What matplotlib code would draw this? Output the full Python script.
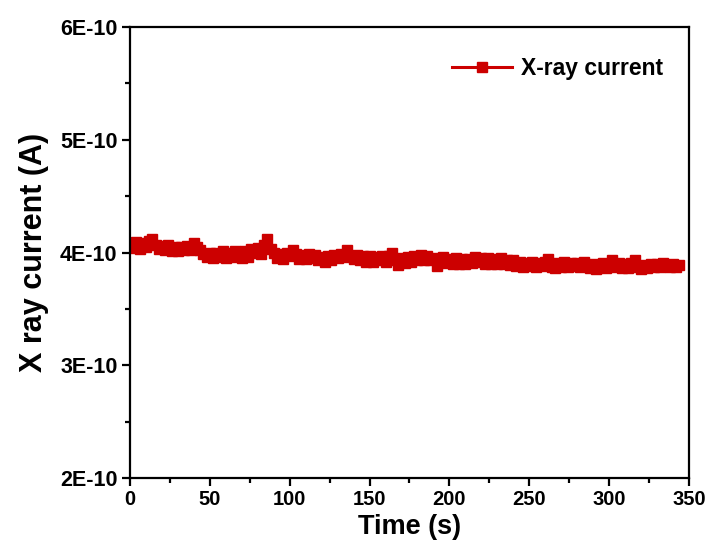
import matplotlib
matplotlib.use("Agg")
import matplotlib.pyplot as plt
import numpy as np
from matplotlib.ticker import FixedLocator, FixedFormatter, MultipleLocator

plt.rcParams['font.family'] = ['Liberation Sans', 'DejaVu Sans']
plt.rcParams['font.weight'] = 'bold'

# sampled every 2 s, current in units of 1e-10 A
dt = 2.0
current = [
    4.08, 4.04, 4.09, 4.03, 4.08, 4.05,
    4.10, 4.12, 4.07, 4.03,
    4.06, 4.02, 4.07, 4.01, 4.05,
    4.01, 4.05, 4.02, 4.06, 4.02,
    4.08, 4.05, 4.02, 3.99,
    3.96, 4.00, 3.95, 4.00, 3.96, 4.01,
    3.95, 4.00, 3.96, 4.01, 3.97,
    3.95, 4.01, 3.96, 4.03, 4.00,
    4.04, 3.99, 4.07, 4.12, 4.03,
    4.00, 3.95, 3.99, 3.94, 4.00,
    3.97, 4.02, 3.99, 3.94, 3.98,
    3.94, 3.99, 3.95, 3.98, 3.93,
    3.96, 3.92, 3.97, 3.93, 3.98,
    3.95, 3.99, 3.96, 4.02, 3.97,
    3.94, 3.98, 3.93, 3.97, 3.92,
    3.97, 3.92, 3.96, 3.93, 3.97,
    3.92, 3.97, 4.00, 3.93, 3.89,
    3.95, 3.91, 3.96, 3.92, 3.97,
    3.93, 3.98, 3.93, 3.97, 3.93,
    3.95, 3.88, 3.93, 3.96, 3.91,
    3.94, 3.90, 3.95, 3.90, 3.94,
    3.90, 3.94, 3.91, 3.96, 3.92,
    3.95, 3.90, 3.95, 3.90, 3.94,
    3.90, 3.95, 3.90, 3.93, 3.89,
    3.93, 3.88, 3.92, 3.87, 3.91,
    3.88, 3.92, 3.87, 3.91, 3.88,
    3.92, 3.94, 3.87, 3.86, 3.91,
    3.87, 3.92, 3.87, 3.91, 3.88,
    3.91, 3.87, 3.92, 3.88, 3.86,
    3.90, 3.85, 3.89, 3.91, 3.86,
    3.90, 3.93, 3.87, 3.91, 3.86,
    3.90, 3.86, 3.91, 3.93, 3.87,
    3.85, 3.89, 3.86, 3.90, 3.87,
    3.90, 3.87, 3.91, 3.88, 3.87,
    3.90, 3.87, 3.89,
]
time = np.arange(len(current)) * dt
y_ticks = [2e-10, 3e-10, 4e-10, 5e-10, 6e-10]
y_tick_labels = ['2E-10', '3E-10', '4E-10', '5E-10', '6E-10']
x_ticks = [0, 50, 100, 150, 200, 250, 300, 350]

fig = plt.figure(figsize=(7.15, 5.54), dpi=100)
ax = fig.add_axes([0.1818, 0.1372, 0.7818, 0.814])

red = '#cc0000'
ax.plot(time, np.array(current) * 1e-10, color=red, lw=2.2,
        marker='s', ms=7, mec=red, mfc=red, label='X-ray current')

ax.set_xlim(0, 350)
ax.set_ylim(2e-10, 6e-10)
ax.xaxis.set_major_locator(FixedLocator(x_ticks))
ax.xaxis.set_minor_locator(MultipleLocator(25))
ax.yaxis.set_major_locator(FixedLocator(y_ticks))
ax.yaxis.set_major_formatter(FixedFormatter(y_tick_labels))
ax.yaxis.set_minor_locator(MultipleLocator(0.5e-10))

for s in ax.spines.values():
    s.set_linewidth(1.6)
ax.tick_params(which='major', direction='out', length=6, width=1.6, pad=3)
ax.tick_params(which='minor', direction='out', length=3.5, width=1.6)
ax.tick_params(axis='x', labelsize=14.5)
ax.tick_params(axis='y', labelsize=15.5)
ax.tick_params(top=False, right=False, which='both')

ax.set_xlabel('Time (s)', fontsize=19.5, fontweight='bold', labelpad=3)
ax.set_ylabel('X ray current (A)', fontsize=22, fontweight='bold', labelpad=8)

leg = ax.legend(loc='upper right', frameon=False, fontsize=16.5,
                handlelength=2.6, handletextpad=0.4, borderaxespad=0.6,
                bbox_to_anchor=(0.995, 0.985))
for t in leg.get_texts():
    t.set_fontweight('bold')

fig.savefig('out.png', dpi=100)
